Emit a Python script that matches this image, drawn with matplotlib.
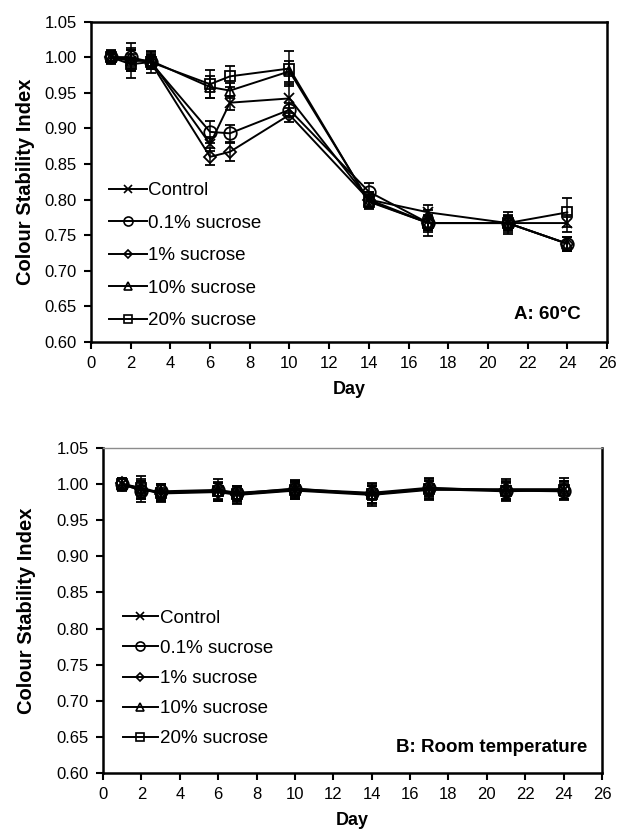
import matplotlib
matplotlib.use("Agg")
import matplotlib.pyplot as plt
from matplotlib.lines import Line2D
from matplotlib.ticker import FormatStrFormatter

plt.rcParams['font.family'] = ['Liberation Sans', 'DejaVu Sans']

# ---------------- data ----------------
series_names = ["Control", "0.1% sucrose", "1% sucrose", "10% sucrose", "20% sucrose"]

days_a = [1, 2, 3, 6, 7, 10, 14, 17, 21, 24]
control_a = [1.000, 0.995, 0.995, 0.878, 0.936, 0.942, 0.800, 0.782, 0.767, 0.767]
suc01_a   = [1.000, 1.000, 0.993, 0.895, 0.893, 0.926, 0.811, 0.767, 0.767, 0.738]
suc1_a    = [1.000, 0.998, 0.993, 0.860, 0.867, 0.919, 0.800, 0.767, 0.767, 0.738]
suc10_a   = [1.000, 0.995, 0.995, 0.958, 0.953, 0.980, 0.798, 0.767, 0.767, 0.738]
suc20_a   = [1.000, 0.990, 0.993, 0.962, 0.973, 0.984, 0.797, 0.767, 0.767, 0.782]
err_control_a = [0.006, 0.010, 0.010, 0.010, 0.010, 0.020, 0.010, 0.010, 0.010, 0.012]
err_suc01_a   = [0.006, 0.020, 0.010, 0.015, 0.012, 0.010, 0.012, 0.010, 0.010, 0.010]
err_suc1_a    = [0.008, 0.015, 0.010, 0.012, 0.013, 0.010, 0.010, 0.010, 0.010, 0.010]
err_suc10_a   = [0.008, 0.015, 0.012, 0.015, 0.010, 0.015, 0.010, 0.012, 0.015, 0.010]
err_suc20_a   = [0.010, 0.020, 0.015, 0.020, 0.015, 0.025, 0.010, 0.018, 0.012, 0.020]

days_b = [1, 2, 3, 6, 7, 10, 14, 17, 21, 24]
control_b = [1.000, 0.993, 0.988, 0.990, 0.986, 0.992, 0.986, 0.993, 0.992, 0.992]
suc01_b   = [1.000, 0.991, 0.990, 0.992, 0.988, 0.993, 0.988, 0.995, 0.991, 0.990]
suc1_b    = [1.001, 0.993, 0.987, 0.989, 0.985, 0.991, 0.985, 0.992, 0.993, 0.993]
suc10_b   = [0.999, 0.992, 0.989, 0.990, 0.987, 0.994, 0.986, 0.994, 0.992, 0.991]
suc20_b   = [1.000, 0.995, 0.988, 0.991, 0.986, 0.992, 0.987, 0.993, 0.990, 0.992]
err_control_b = [0.008, 0.018, 0.012, 0.012, 0.010, 0.012, 0.012, 0.015, 0.015, 0.012]
err_suc01_b   = [0.008, 0.012, 0.010, 0.015, 0.010, 0.010, 0.010, 0.012, 0.012, 0.010]
err_suc1_b    = [0.008, 0.012, 0.012, 0.012, 0.012, 0.010, 0.015, 0.012, 0.010, 0.015]
err_suc10_b   = [0.008, 0.012, 0.010, 0.012, 0.010, 0.012, 0.012, 0.010, 0.012, 0.012]
err_suc20_b   = [0.008, 0.012, 0.012, 0.012, 0.012, 0.012, 0.015, 0.012, 0.012, 0.012]

x_ticks = list(range(0, 27, 2))
y_ticks = [0.60, 0.65, 0.70, 0.75, 0.80, 0.85, 0.90, 0.95, 1.00, 1.05]

markers = ["x", "o", "D", "^", "s"]
msizes = [7, 9, 6, 7.5, 7.5]
leg_msizes = [6, 6.5, 4.5, 6, 6]

W, H = 619, 831
fig = plt.figure(figsize=(W / 100, H / 100), dpi=100)

def px_axes(left, top, right, bottom):
    return [left / W, 1 - bottom / H, (right - left) / W, (bottom - top) / H]

ax_a = fig.add_axes(px_axes(91, 21.5, 607, 342))
ax_b = fig.add_axes(px_axes(103, 448, 602, 773))

def draw(ax, days, vals, errs, legend_anchor, label_spacing, handle_len, ylabel_x):
    for name, v, e, m, ms in zip(series_names, vals, errs, markers, msizes):
        ax.plot(days, v, color="black", lw=1.4, marker=m, ms=ms,
                mfc="none", mec="black", mew=1.3, zorder=2)
        ax.errorbar(days, v, yerr=e, fmt="none", ecolor="black", capsize=3.5,
                    elinewidth=1.1, capthick=1.3, zorder=3)
    ax.set_xlim(0, 26)
    ax.set_ylim(0.60, 1.05)
    ax.set_xticks(x_ticks)
    ax.set_yticks(y_ticks)
    ax.yaxis.set_major_formatter(FormatStrFormatter("%.2f"))
    ax.tick_params(axis="both", direction="out", labelsize=12, width=1.5,
                   length=5, colors="black", pad=5)
    ax.set_xlabel("Day", fontsize=13, fontweight="bold", labelpad=7)
    ax.set_ylabel("Colour Stability Index", fontsize=14.5, fontweight="bold")
    ax.yaxis.label.set_va("center")
    ax.yaxis.set_label_coords(ylabel_x, 0.5)
    handles = [Line2D([], [], color="black", lw=1.4, marker=m, ms=ms,
                      mfc="none", mec="black", mew=1.2)
               for m, ms in zip(markers, leg_msizes)]
    ax.legend(handles, series_names, loc="upper left", bbox_to_anchor=legend_anchor,
              frameon=False, fontsize=13.5, handlelength=handle_len,
              handletextpad=0.08, labelspacing=label_spacing,
              borderaxespad=0, borderpad=0)

draw(ax_a, days_a, [control_a, suc01_a, suc1_a, suc10_a, suc20_a],
     [err_control_a, err_suc01_a, err_suc1_a, err_suc10_a, err_suc20_a],
     (0.035, 0.499), 0.82, 2.0, (26 - 91) / 516)
draw(ax_b, days_b, [control_b, suc01_b, suc1_b, suc10_b, suc20_b],
     [err_control_b, err_suc01_b, err_suc1_b, err_suc10_b, err_suc20_b],
     (0.04, 0.502), 0.69, 1.87, (27 - 103) / 499)

for sp in ax_a.spines.values():
    sp.set_linewidth(1.8)
    sp.set_color("black")
for name in ["left", "bottom", "right"]:
    ax_b.spines[name].set_linewidth(1.8)
    ax_b.spines[name].set_color("black")
ax_b.spines["top"].set_linewidth(1.0)
ax_b.spines["top"].set_color("#8c8c8c")

ax_a.text(0.95, 0.087, "A: 60°C", transform=ax_a.transAxes, ha="right",
          va="center", fontsize=13.5, fontweight="bold")
ax_b.text(0.97, 0.08, "B: Room temperature", transform=ax_b.transAxes,
          ha="right", va="center", fontsize=13.5, fontweight="bold")

fig.savefig("out.png", dpi=100)
